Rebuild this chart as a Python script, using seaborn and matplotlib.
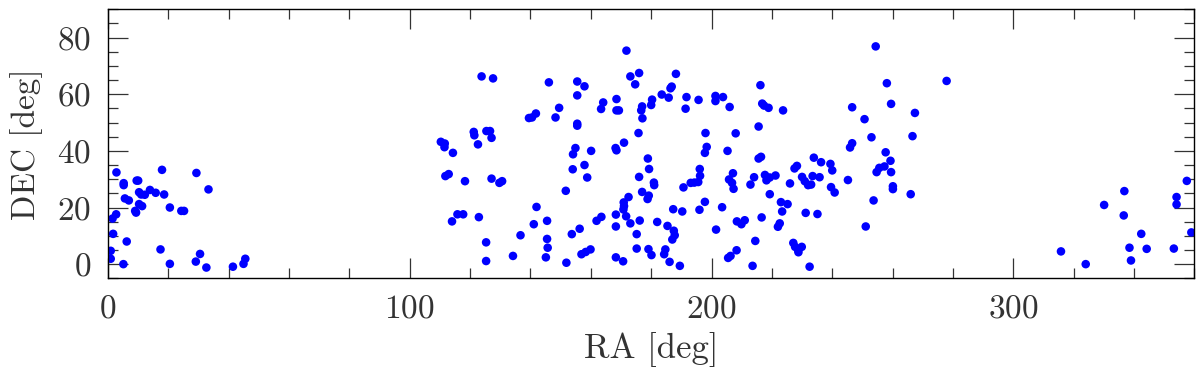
import matplotlib
matplotlib.use("Agg")
import matplotlib.pyplot as plt
import seaborn as sns
import pandas as pd
from matplotlib.ticker import MultipleLocator

# RA / DEC of the sources (deg)
ra = [
    2.8, 5.2, 5.2, 5.6, 6.9, 9.5, 10.0, 10.3, 11.0, 12.2, 13.9, 15.8, 17.9, 18.6,
    20.5, 24.3, 25.2, 29.3, 33.3, 10.3, 11.3, 9.0, 9.3, 1.5, 2.7, 1.7, 6.2, 0.9,
    0.9, 5.1, 17.4, 20.5, 29.1, 30.5, 32.6, 41.4, 44.9, 45.5,
    123.8, 127.6, 146.1, 155.5, 155.5, 149.5, 139.5, 140.5, 141.8, 148.3, 155.5,
    155.5, 121.2, 121.4, 125.4, 126.6, 127.1, 122.6, 110.3, 111.6, 111.5, 114.3,
    154.9, 154.1, 154.0, 111.8, 112.9, 118.3, 127.1, 129.7, 130.6, 151.7, 142.0,
    115.8, 117.7, 114.0, 122.9, 141.1, 145.5, 136.7, 145.5, 145.7, 153.7, 125.3,
    125.3, 134.2, 145.1, 151.9,
    171.8, 173.1, 176.0, 174.7, 188.2, 186.8, 186.4, 183.5, 185.8, 157.9, 164.1,
    163.4, 168.5, 168.5, 169.3, 177.0, 176.7, 177.1, 180.3, 180.0, 191.7, 191.4,
    195.7, 201.3, 201.3, 203.8, 206.0, 216.2, 216.8, 217.4, 218.9, 223.7, 175.8,
    198.0, 208.0, 215.6, 168.2, 168.5, 171.0, 160.1, 178.9, 179.3, 176.0, 180.9,
    181.0, 177.0, 179.2, 178.8, 172.5, 170.9, 171.0, 170.8, 171.7, 168.3, 173.1,
    176.2, 182.0, 185.4, 187.5, 187.8, 187.0, 187.3, 190.3, 190.7, 193.1, 194.3,
    195.6, 196.2, 196.1, 197.8, 198.4, 196.0, 197.8, 203.5, 205.3, 207.1, 205.8,
    206.8, 207.3, 201.5, 208.4, 209.9, 211.0, 205.5, 206.3, 208.3, 214.5, 213.6,
    216.6, 212.9, 214.1, 215.6, 216.4, 217.7, 218.2, 219.3, 221.2, 219.3, 223.0,
    225.2, 223.4, 222.0, 222.6, 226.0, 227.5, 228.3, 230.0, 230.9, 232.0, 231.2,
    227.1, 227.7, 228.7, 229.9, 228.8, 232.5, 156.3, 156.9, 158.3, 159.9, 161.9,
    163.5, 168.3, 168.3, 170.7, 175.2, 175.2, 179.1, 180.1, 184.7, 184.3, 186.1,
    189.5, 157.9, 158.8,
    254.4, 258.1, 277.9, 259.5, 246.6, 267.4, 250.7, 266.6, 253.0, 246.6, 245.9,
    257.7, 259.3, 254.7, 255.6, 257.3, 259.5, 260.1, 260.1, 266.0, 253.7, 251.1,
    245.2, 233.9, 236.3, 239.4, 240.0, 239.6, 240.8, 233.0, 233.5, 235.8, 235.1,
    315.8, 324.0, 330.1, 336.8, 336.6, 342.4, 338.5, 339.0, 344.2, 353.2, 354.1,
    354.1, 357.5, 359.0,
]
dec = [
    32.4, 28.6, 27.9, 23.2, 22.5, 29.5, 29.5, 25.4, 24.6, 24.5, 26.2, 25.2, 33.3, 24.6,
    20.0, 18.8, 18.8, 32.2, 26.4, 21.2, 20.5, 18.8, 18.2, 16.1, 17.6, 10.7, 8.0, 4.7,
    1.9, 0.0, 5.2, 0.1, 0.9, 3.6, -1.2, -0.9, 0.1, 1.9,
    66.3, 65.6, 64.2, 64.5, 59.6, 55.2, 51.6, 51.8, 53.2, 51.8, 49.6,
    48.9, 46.7, 45.5, 47.0, 47.0, 44.6, 42.3, 43.2, 42.6, 41.3, 39.3,
    41.0, 38.8, 33.5, 31.1, 31.8, 29.3, 30.2, 28.7, 29.3, 25.9, 20.2,
    17.6, 17.6, 15.1, 16.6, 14.1, 15.3, 10.2, 8.9, 5.8, 10.6, 7.7,
    1.1, 2.9, 2.4, 0.5,
    75.4, 66.3, 67.5, 63.5, 67.2, 62.7, 62.1, 59.9, 58.8, 62.8, 57.1,
    54.8, 58.3, 54.3, 54.3, 55.7, 54.3, 51.5, 58.1, 56.2, 59.0, 54.9,
    58.0, 59.4, 57.6, 59.0, 55.5, 63.2, 56.7, 56.0, 55.2, 54.3, 46.3,
    46.3, 46.2, 48.6, 41.0, 40.2, 42.9, 40.0, 37.3, 33.6, 30.8, 28.8,
    27.9, 25.5, 24.2, 23.0, 23.7, 21.8, 20.5, 19.3, 16.9, 17.5, 14.4,
    15.4, 14.9, 13.5, 11.8, 10.2, 8.7, 19.4, 18.6, 27.1, 28.7, 28.8,
    29.0, 31.2, 33.6, 39.3, 41.4, 19.2, 22.0, 20.1, 40.0, 32.1, 29.9,
    28.7, 26.6, 12.2, 15.1, 14.1, 15.5, 2.2, 2.9, 4.9, 8.2, -0.6,
    16.5, 28.1, 30.7, 37.3, 37.9, 31.5, 29.6, 30.6, 31.3, 24.7, 21.9,
    21.2, 18.6, 13.2, 14.4, 28.5, 33.8, 34.7, 30.8, 29.3, 27.9, 18.1,
    7.5, 6.1, 4.9, 6.1, 4.2, -0.9, 12.5, 3.5, 4.3, 5.2, 15.3,
    16.7, 13.3, 2.4, 1.0, 10.6, 5.5, 5.3, 3.2, 5.2, 3.5, 0.8,
    -0.6, 35.0, 30.6,
    76.9, 63.9, 64.7, 56.6, 55.4, 53.4, 51.2, 45.2, 44.8, 42.7, 41.2,
    39.5, 36.5, 32.5, 34.0, 34.5, 32.5, 27.5, 26.5, 24.7, 22.5, 13.3,
    29.7, 37.6, 36.0, 35.4, 33.1, 27.2, 25.3, 28.1, 31.1, 30.7, 17.7,
    4.5, 0.0, 20.9, 25.8, 17.2, 10.7, 5.8, 1.3, 5.4, 5.5, 23.7,
    21.1, 29.4, 11.2,
]

x_ticks_major = 100
x_ticks_minor = 20
y_ticks_major = 20
y_ticks_minor = 5

df = pd.DataFrame({"RA": ra, "DEC": dec})

sns.set_style("ticks")
plt.rcParams["font.family"] = ["cmr10", "DejaVu Serif"]
plt.rcParams["axes.formatter.use_mathtext"] = True

fig = plt.figure(figsize=(12, 3.69), dpi=100)
ax = fig.add_axes([0.09, 0.2458, 0.9053, 0.729])

sns.scatterplot(data=df, x="RA", y="DEC", ax=ax, color="#0000ff",
                s=38, linewidth=0, edgecolor="none")

ax.set_xlim(0, 360)
ax.set_ylim(-5, 90)
ax.xaxis.set_major_locator(MultipleLocator(x_ticks_major))
ax.xaxis.set_minor_locator(MultipleLocator(x_ticks_minor))
ax.yaxis.set_major_locator(MultipleLocator(y_ticks_major))
ax.yaxis.set_minor_locator(MultipleLocator(y_ticks_minor))
ax.tick_params(which="both", direction="in", top=True, right=True,
               bottom=True, left=True, color="#333333", width=0.9)
ax.tick_params(which="major", length=14.4, pad=12, labelsize=24,
               labelcolor="#333333")
ax.tick_params(which="minor", length=7.2)
for sp in ax.spines.values():
    sp.set_color("black")
    sp.set_linewidth(1.0)

ax.set_xlabel("RA [deg]", fontsize=25, color="#333333", labelpad=6)
ax.set_ylabel("DEC [deg]", fontsize=24, color="#333333", labelpad=10)

fig.savefig("out.png", dpi=100)
